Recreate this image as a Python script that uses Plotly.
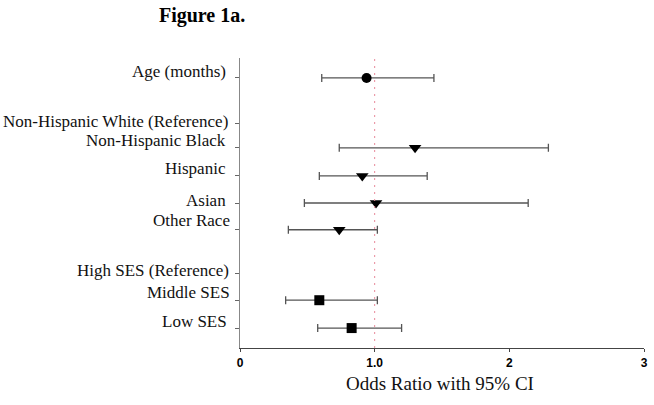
import plotly.graph_objects as go

# ---- data ----
labels = ["Age (months)", "Non-Hispanic White (Reference)", "Non-Hispanic Black",
          "Hispanic", "Asian", "Other Race", "High SES (Reference)", "Middle SES", "Low SES"]
odds = [0.94, None, 1.30, 0.908, 1.01, 0.737, None, 0.589, 0.829]
ci_low = [0.607, None, 0.737, 0.589, 0.478, 0.359, None, 0.339, 0.577]
ci_high = [1.44, None, 2.29, 1.39, 2.14, 1.02, None, 1.02, 1.20]
marker_kind = ["circle", None, "triangle-down", "triangle-down", "triangle-down",
               "triangle-down", None, "square", "square"]
x_ticks = [0, 1, 2, 3]
x_tick_text = ["0", "1.0", "2", "3"]

# ---- layout constants (row positions and label nudges) ----
row_y = [10.16, 8.5, 7.6, 6.57, 5.58, 4.6, 3.0, 2.02, 1.0]
label_shift = [6, 2, 7, 7, 3, 9, 3, 8, 7]
label_xshift = [-12, -10, -12, -12, -12, -8, -9, -8, -11]
marker_size = {"circle": 10, "triangle-down": 11, "square": 10}

fig = go.Figure()

for i, lab in enumerate(labels):
    if odds[i] is None:
        continue
    fig.add_trace(go.Scatter(
        x=[odds[i]], y=[row_y[i]], mode="markers",
        marker=dict(symbol=marker_kind[i], size=marker_size[marker_kind[i]], color="black"),
        error_x=dict(type="data", symmetric=False,
                     array=[ci_high[i] - odds[i]], arrayminus=[odds[i] - ci_low[i]],
                     color="#555555", thickness=1.3, width=4),
        showlegend=False, hoverinfo="skip"))

# reference line at OR = 1
fig.add_shape(type="line", x0=1, x1=1, y0=0, y1=1, yref="paper",
              line=dict(color="#e8899a", width=1, dash="2px,5px"))

# y labels as annotations (offset from ticks like the original)
for i, lab in enumerate(labels):
    fig.add_annotation(x=0, y=row_y[i], xref="paper", yref="y", text=lab,
                       showarrow=False, xanchor="right", yanchor="middle",
                       xshift=label_xshift[i], yshift=label_shift[i],
                       font=dict(family="Liberation Serif", size=17, color="#111111"))

# x-axis title
fig.add_annotation(x=0.495, y=0, xref="paper", yref="paper", text="Odds Ratio with 95% CI",
                   showarrow=False, xanchor="center", yanchor="middle", yshift=-35,
                   font=dict(family="Liberation Serif", size=19, color="#111111"))

fig.update_layout(
    width=654, height=405,
    margin=dict(l=240, r=10, t=58, b=57),
    plot_bgcolor="white", paper_bgcolor="white",
    title=dict(text="<b>Figure 1a.</b>", x=0.309, xanchor="center", y=0.962, yanchor="middle",
               font=dict(family="Liberation Serif", size=20, color="black")),
    xaxis=dict(range=[0, 3], tickvals=x_ticks, ticktext=x_tick_text,
               showline=True, linecolor="#444444", linewidth=1.3,
               ticks="outside", ticklen=3, tickcolor="#444444",
               showgrid=False, zeroline=False, automargin=False,
               tickfont=dict(family="Liberation Sans", size=12, color="black", weight="bold")),
    yaxis=dict(range=[0.27, 10.89], tickvals=row_y, showticklabels=False,
               showline=True, linecolor="#888888", linewidth=1.3,
               ticks="outside", ticklen=4, tickcolor="#666666",
               showgrid=False, zeroline=False, automargin=False),
)

fig.write_html("out.html", config={"displayModeBar": False},
               post_script="document.body.style.margin='0';")
